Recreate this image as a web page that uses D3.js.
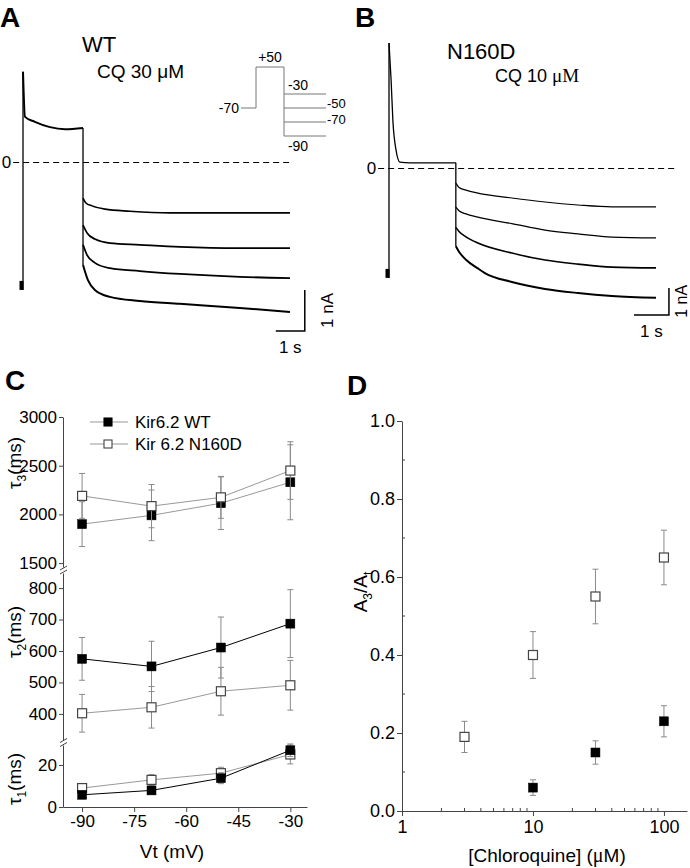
<!DOCTYPE html>
<html><head><meta charset="utf-8">
<script src="https://cdn.jsdelivr.net/npm/d3@7"></script>
<style>body{margin:0;background:#fff}svg{display:block}text{font-family:Arial,"Liberation Sans",sans-serif;fill:#000}</style>
</head><body><svg id="c" width="690" height="868"></svg>
<script>
// ---------- DATA ----------
// Panel A (WT, CQ 30 uM): time (s), current (nA)
const aStep = [[0, -3.12], [0, 2.20]];
const aDecay = [[0, 2.20], [0.07, 1.10], [0.41, 0.98], [0.93, 0.85], [1.45, 0.80], [2.07, 0.83]];
const aTails = [
  [[2.07, -0.88], [2.17, -1.00], [2.38, -1.07], [2.83, -1.15], [3.69, -1.20], [5.07, -1.24], [7.14, -1.24], [9.21, -1.24]],
  [[2.07, -1.54], [2.21, -1.73], [2.48, -1.88], [3.00, -1.98], [4.03, -2.02], [5.41, -2.07], [7.48, -2.10], [9.21, -2.10]],
  [[2.07, -2.02], [2.21, -2.27], [2.48, -2.46], [3.00, -2.59], [4.03, -2.66], [5.41, -2.73], [7.48, -2.80], [9.21, -2.83]],
  [[2.07, -2.51], [2.24, -2.88], [2.48, -3.12], [3.00, -3.29], [4.03, -3.39], [5.41, -3.46], [7.48, -3.56], [9.21, -3.66]]
];
// Panel B (N160D, CQ 10 uM)
const bStep = [[0, -4.07], [0, 4.63]];
const bDecay = [[0, 4.63], [0.06, 3.26], [0.11, 1.78], [0.20, 0.67], [0.31, 0.22], [0.60, 0.19], [1.91, 0.19]];
const bTails = [
  [[1.91, -0.56], [2.0, -0.72], [2.2, -0.82], [2.54, -0.93], [3.51, -1.11], [4.46, -1.26], [5.40, -1.37], [6.37, -1.44], [7.63, -1.44]],
  [[1.91, -1.45], [2.0, -1.58], [2.2, -1.70], [2.54, -1.82], [3.51, -2.06], [4.46, -2.30], [5.40, -2.44], [6.37, -2.56], [7.63, -2.59]],
  [[1.91, -2.20], [2.0, -2.35], [2.2, -2.55], [2.54, -2.78], [3.51, -3.15], [4.46, -3.41], [5.40, -3.56], [6.37, -3.67], [7.63, -3.70]],
  [[1.91, -2.90], [2.0, -3.10], [2.2, -3.40], [2.54, -3.72], [2.74, -3.89], [3.51, -4.22], [4.46, -4.48], [5.40, -4.63], [6.37, -4.74], [7.63, -4.81]]
];
// Protocol (mV)
const protoHold = -70, protoPre = 50;
const protoTests = [-30, -50, -70, -90];

// Panel C
const voltages = [-90, -70, -50, -30];
const xTicksC = [-90, -75, -60, -45, -30];
const tau3WT = [1900, 1990, 2115, 2330];
const tau3WTerr = [230, 260, 270, 385];
const tau3N = [2190, 2085, 2175, 2450];
const tau3Nerr = [230, 222, 215, 296];
const tau2WT = [575, 551, 611, 687];
const tau2WTerr = [68, 80, 97, 108];
const tau2N = [402, 421, 472, 491];
const tau2Nerr = [60, 66, 76, 79];
const tau1WT = [5.8, 7.9, 13.7, 27.0];
const tau1WTerr = [1.0, 1.2, 2.6, 3.0];
const tau1N = [9.0, 12.9, 16.1, 25.0];
const tau1Nerr = [1.0, 2.5, 2.8, 4.5];
const ticks3 = [1500, 2000, 2500, 3000];
const ticks2 = [400, 500, 600, 700, 800];
const ticks1 = [0, 20];
const legendLabels = ["Kir6.2 WT", "Kir 6.2 N160D"];

// Panel D
const concN = [3, 10, 30, 100];
const ratioN = [0.19, 0.40, 0.55, 0.65];
const ratioNerr = [0.04, 0.06, 0.07, 0.07];
const concWT = [10, 30, 100];
const ratioWT = [0.06, 0.15, 0.23];
const ratioWTerr = [0.02, 0.03, 0.04];
const xTicksD = [1, 10, 100];
const yTicksD = [0, 0.2, 0.4, 0.6, 0.8, 1.0];

// ---------- DRAW ----------
const svg = d3.select('#c');
const GREY = '#8a8a8a';

function label(x, y, txt, size, opts = {}) {
  const t = svg.append('text').attr('x', x).attr('y', y).attr('font-size', size)
    .attr('text-anchor', opts.anchor || 'start');
  if (opts.bold) t.attr('font-weight', 'bold');
  if (opts.rotate) t.attr('transform', `rotate(-90,${x},${y})`);
  t.text(txt);
  return t;
}

// panel letters
label(0, 27, 'A', 28, {bold: true});
label(355, 27, 'B', 28, {bold: true});
label(5, 390, 'C', 28, {bold: true});
label(347, 395, 'D', 28, {bold: true});

function tracePanel(cfg) {
  const g = svg.append('g');
  const {x, y} = cfg;
  const lin = d3.line().x(d => x(d[0])).y(d => y(d[1]));
  const smooth = d3.line().x(d => x(d[0])).y(d => y(d[1])).curve(d3.curveMonotoneX);
  // zero line
  g.append('line').attr('x1', x(cfg.zero[0])).attr('x2', x(cfg.zero[1]))
    .attr('y1', y(0) + 0.5).attr('y2', y(0) + 0.5).attr('stroke', '#000').attr('stroke-width', 1)
    .attr('stroke-dasharray', '6,4');
  // step line
  g.append('path').attr('d', lin(cfg.step)).attr('stroke', '#000').attr('fill', 'none').attr('stroke-width', 1.3);
  g.append('rect').attr('x', x(0) - 3.5).attr('y', y(cfg.step[0][1]) - 9).attr('width', 4).attr('height', 9).attr('fill', '#000');
  // decay
  g.append('path').attr('d', smooth(cfg.decay)).attr('stroke', '#000').attr('fill', 'none').attr('stroke-width', cfg.decayW);
  // drop
  const dropT = cfg.decay[cfg.decay.length - 1][0];
  const last = cfg.tails[cfg.tails.length - 1][0][1];
  g.append('path').attr('d', lin([[dropT, cfg.decay[cfg.decay.length - 1][1]], [dropT, last]]))
    .attr('stroke', '#000').attr('fill', 'none').attr('stroke-width', 1.3);
  cfg.tails.forEach((t, i) => {
    g.append('path').attr('d', smooth(t)).attr('stroke', '#000').attr('fill', 'none')
      .attr('stroke-width', cfg.tailW[i]);
  });
  // scale bar
  const sb = cfg.bar;
  g.append('path').attr('d', lin([[sb[0], sb[1]], [sb[0] + 1, sb[1]], [sb[0] + 1, sb[1] + 1]]))
    .attr('stroke', '#000').attr('fill', 'none').attr('stroke-width', 1.5);
  label(x(sb[0] + 0.5), y(sb[1]) + 22, '1 s', 17, {anchor: 'middle'});
  label(x(sb[0] + 1) + cfg.nAdx, y(sb[1] + 0.5), '1 nA', cfg.nAsize, {anchor: 'middle', rotate: true});
  label(x(cfg.zero[0]) - 2, y(0) + 6, '0', 17, {anchor: 'end'});
}

tracePanel({
  x: d3.scaleLinear().domain([0, 9.21]).range([23, 290]),
  y: d3.scaleLinear().domain([0, 1]).range([162, 121]),
  step: aStep, decay: aDecay, tails: aTails, decayW: 2.0, tailW: [1.6, 1.7, 1.8, 2.0],
  zero: [-0.34, 9.21], bar: [8.72, -4.12], nAdx: 28, nAsize: 17
});
tracePanel({
  x: d3.scaleLinear().domain([0, 7.63]).range([389, 656]),
  y: d3.scaleLinear().domain([0, 1]).range([168, 141]),
  step: bStep, decay: bDecay, tails: bTails, decayW: 1.3, tailW: [1.2, 1.3, 1.6, 2.0],
  zero: [-0.31, 8.17], bar: [7.0, -5.44], nAdx: 18, nAsize: 16
});

// texts A/B
label(82, 52, 'WT', 22);
label(97, 78, 'CQ 30 μM', 19);
label(447, 59, 'N160D', 22);
{
  const t = label(495, 82, 'CQ 10 ', 18);
  t.append('tspan').attr('font-family', '"Liberation Serif","Times New Roman",serif').attr('font-size', 19).text('μM');
}

// protocol inset (schematic)
{
  const g = svg.append('g');
  const vy = d3.scaleLinear().domain([-30, -90]).range([94, 136]);
  const tx = d3.scaleLinear().domain([0, 1, 3, 6]).range([241, 256, 284, 326]);
  const yHold = vy(-50), yPre = 67;
  const pl = d3.line();
  g.append('path').attr('d', pl([[tx(0), yHold], [tx(1), yHold], [tx(1), yPre], [tx(3), yPre], [tx(3), vy(-90)]]))
    .attr('stroke', '#777').attr('fill', 'none').attr('stroke-width', 1);
  protoTests.forEach(v => {
    g.append('line').attr('x1', tx(3)).attr('x2', tx(6)).attr('y1', vy(v)).attr('y2', vy(v))
      .attr('stroke', '#777').attr('stroke-width', 1);
  });
  label(tx(0) - 2, yHold + 5, String(protoHold), 14, {anchor: 'end'});
  label(tx(2), yPre - 5, '+' + protoPre, 14, {anchor: 'middle'});
  label(tx(4), vy(-30) - 4, String(protoTests[0]), 14, {anchor: 'middle'});
  label(tx(6) + 1, vy(-50), String(protoTests[1]), 13);
  label(tx(6) + 1, vy(-70) + 2, String(protoTests[2]), 13);
  label(tx(4), vy(-90) + 15, String(protoTests[3]), 14, {anchor: 'middle'});
}

// ---------- Panel C ----------
const xC = d3.scaleLinear().domain([-95.5, -25.2]).range([63, 307]);
const y3 = d3.scaleLinear().domain([1460, 3000]).range([567, 417]);
const y2 = d3.scaleLinear().domain([317, 848]).range([740, 573]);
const y1 = d3.scaleLinear().domain([0, 29.5]).range([807, 745]);
const axC = svg.append('g');
function yAxis(scale, ticks) {
  const g = axC.append('g').attr('transform', 'translate(63,0)')
    .call(d3.axisLeft(scale).tickValues(ticks).tickSize(4).tickSizeOuter(0).tickPadding(2).tickFormat(d => String(d)));
  g.select('.domain').attr('stroke', '#444');
  g.selectAll('.tick line').attr('stroke', '#444');
  g.selectAll('text').attr('font-size', 17).attr('font-family', 'Arial,"Liberation Sans",sans-serif');
}
yAxis(y3, ticks3); yAxis(y2, ticks2); yAxis(y1, ticks1);
{
  const g = axC.append('g').attr('transform', 'translate(0,807)')
    .call(d3.axisBottom(xC).tickValues(xTicksC).tickSize(5).tickSizeOuter(0).tickPadding(3).tickFormat(d => String(d)));
  g.select('.domain').attr('stroke', '#444');
  g.selectAll('.tick line').attr('stroke', '#444');
  g.selectAll('text').attr('font-size', 17).attr('font-family', 'Arial,"Liberation Sans",sans-serif');
}
// break marks
[y3.range()[0] + 3, y2.range()[0] + 2.5].forEach(yb => {
  [-2, 2].forEach(o => {
    axC.append('line').attr('x1', 60).attr('x2', 67).attr('y1', yb + o + 2).attr('y2', yb + o - 2)
      .attr('stroke', '#444').attr('stroke-width', 1);
  });
});

function series(g, xs, ys, errs, xScale, yScale, filled, lineColor) {
  xs.forEach((v, i) => {
    const x = xScale(v), yt = yScale(ys[i] + errs[i]), yb = yScale(ys[i] - errs[i]);
    g.append('path').attr('d', `M${x},${yt}V${yb}M${x - 3},${yt}H${x + 3}M${x - 3},${yb}H${x + 3}`)
      .attr('stroke', GREY).attr('stroke-width', 1).attr('fill', 'none');
  });
  if (lineColor) {
    g.append('path').attr('d', d3.line().x((d, i) => xScale(xs[i])).y(d => yScale(d))(ys))
      .attr('stroke', lineColor).attr('fill', 'none').attr('stroke-width', 1);
  }
  const s = 9;
  xs.forEach((v, i) => {
    g.append('rect').attr('x', xScale(v) - s / 2).attr('y', yScale(ys[i]) - s / 2).attr('width', s).attr('height', s)
      .attr('fill', filled ? '#000' : '#fff').attr('stroke', filled ? '#000' : '#444').attr('stroke-width', filled ? 0.5 : 1.2);
  });
}
const gC = svg.append('g');
series(gC, voltages, tau3WT, tau3WTerr, xC, y3, true, '#999');
series(gC, voltages, tau3N, tau3Nerr, xC, y3, false, '#999');
series(gC, voltages, tau2N, tau2Nerr, xC, y2, false, '#999');
series(gC, voltages, tau2WT, tau2WTerr, xC, y2, true, '#000');
series(gC, voltages, tau1N, tau1Nerr, xC, y1, false, '#999');
series(gC, voltages, tau1WT, tau1WTerr, xC, y1, true, '#000');

// legend
legendLabels.forEach((lab, i) => {
  const ly = 422 + i * 22;
  svg.append('line').attr('x1', 90).attr('x2', 128).attr('y1', ly).attr('y2', ly).attr('stroke', '#999');
  svg.append('rect').attr('x', 104).attr('y', ly - 4).attr('width', 8).attr('height', 8)
    .attr('fill', i === 0 ? '#000' : '#fff').attr('stroke', i === 0 ? '#000' : '#444').attr('stroke-width', 1.1);
  label(135, ly + 6, lab, 17);
});

// axis titles C
function tauLabel(x, y, sub) {
  const t = svg.append('text').attr('x', x).attr('y', y).attr('font-size', 19).attr('text-anchor', 'middle')
    .attr('transform', `rotate(-90,${x},${y})`);
  t.append('tspan').text('τ');
  t.append('tspan').attr('font-size', 12).attr('dy', 5).text(sub);
  t.append('tspan').attr('dy', -5).text('(ms)');
}
tauLabel(21, 463, '3');
tauLabel(21, 632, '2');
tauLabel(21, 779, '1');
label(172, 858, 'Vt (mV)', 19, {anchor: 'middle'});

// ---------- Panel D ----------
const xD = d3.scaleLog().domain([1, 150]).range([402, 687]);
const yD = d3.scaleLinear().domain([0, 1]).range([811, 421]);
{
  const g = svg.append('g').attr('transform', 'translate(0,811)')
    .call(d3.axisBottom(xD).tickValues(xTicksD).tickSize(5).tickSizeOuter(0).tickPadding(4).tickFormat(d => String(d)));
  g.select('.domain').attr('stroke', '#444');
  g.selectAll('.tick line').attr('stroke', '#444');
  g.selectAll('text').attr('font-size', 18).attr('font-family', 'Arial,"Liberation Sans",sans-serif');
  const minor = [];
  [1, 10].forEach(b => { for (let k = 2; k <= 9; k++) minor.push(b * k); });
  g.selectAll('.minor').data(minor).enter().append('line').attr('class', 'minor')
    .attr('x1', d => xD(d)).attr('x2', d => xD(d)).attr('y1', 0).attr('y2', -3).attr('stroke', '#444');
}
{
  const g = svg.append('g').attr('transform', 'translate(402,0)')
    .call(d3.axisLeft(yD).tickValues(yTicksD).tickSize(5).tickSizeOuter(0).tickPadding(2).tickFormat(d3.format('.1f')));
  g.select('.domain').attr('stroke', '#444');
  g.selectAll('.tick line').attr('stroke', '#444');
  g.selectAll('text').attr('font-size', 18).attr('font-family', 'Arial,"Liberation Sans",sans-serif');
  const minor = [0.1, 0.3, 0.5, 0.7, 0.9];
  g.selectAll('.minor').data(minor).enter().append('line').attr('class', 'minor')
    .attr('x1', 0).attr('x2', 3).attr('y1', d => yD(d)).attr('y2', d => yD(d)).attr('stroke', '#444');
}
const gD = svg.append('g');
series(gD, concN, ratioN, ratioNerr, xD, yD, false, null);
series(gD, concWT, ratioWT, ratioWTerr, xD, yD, true, null);
{
  const x = 367, y = 592;
  const t = svg.append('text').attr('x', x).attr('y', y).attr('font-size', 19).attr('text-anchor', 'middle')
    .attr('transform', `rotate(-90,${x},${y})`);
  t.append('tspan').text('A');
  t.append('tspan').attr('font-size', 12).attr('dy', 5).text('3');
  t.append('tspan').attr('dy', -5).text('/A');
  t.append('tspan').attr('font-size', 12).attr('dy', 5).text('t');
}
{
  const t = label(547, 862, '[Chloroquine] (', 19, {anchor: 'middle'});
  t.append('tspan').attr('font-family', '"Liberation Serif","Times New Roman",serif').attr('font-size', 20).text('μ');
  t.append('tspan').text('M)');
}
</script></body></html>
